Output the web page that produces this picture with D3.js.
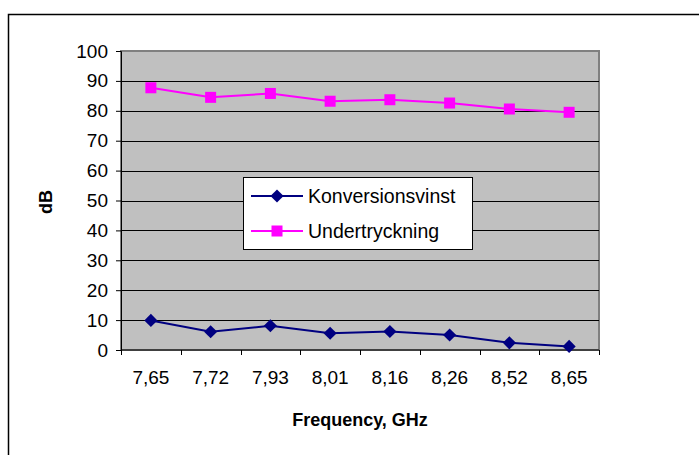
<!DOCTYPE html>
<html>
<head>
<meta charset="utf-8">
<script src="https://cdn.jsdelivr.net/npm/d3@7"></script>
<style>
  body { margin: 0; background: #fff; }
  svg { font-family: Arial, "Liberation Sans", sans-serif; display: block; }
</style>
</head>
<body>
<svg width="699" height="455"></svg>
<script>
var frequencies = ["7,65", "7,72", "7,93", "8,01", "8,16", "8,26", "8,52", "8,65"];
var konversionsvinst = [9.9, 6.1, 8.1, 5.6, 6.2, 5.0, 2.4, 1.2];
var undertryckning = [87.7, 84.5, 85.8, 83.2, 83.7, 82.6, 80.6, 79.5];
var yTicks = [0, 10, 20, 30, 40, 50, 60, 70, 80, 90, 100];

var svg = d3.select("svg"),
    margin = {top: 51, right: 100, bottom: 105, left: 121},
    width = +svg.attr("width") - margin.left - margin.right,
    height = +svg.attr("height") - margin.top - margin.bottom;

// outer chart frame (runs off right/bottom edge)
svg.append("rect")
    .attr("x", 8.5).attr("y", 14.5)
    .attr("width", 720).attr("height", 480)
    .attr("fill", "none").attr("stroke", "#000").attr("stroke-width", 1.5);

var x = d3.scaleBand().domain(frequencies).range([0, width]),
    y = d3.scaleLinear().domain([0, 100]).range([height, 0]);

var g = svg.append("g")
    .attr("transform", "translate(" + margin.left + "," + margin.top + ")");

g.append("rect")
    .attr("width", width).attr("height", height)
    .attr("fill", "#c0c0c0")
    .attr("stroke", "#808080").attr("stroke-width", 2);

// gridlines
g.selectAll(".grid")
    .data(yTicks.filter(function(d) { return d > 0 && d < 100; }))
    .enter().append("line")
    .attr("x1", 0).attr("x2", width)
    .attr("y1", function(d) { return Math.round(y(d)) + 0.5; })
    .attr("y2", function(d) { return Math.round(y(d)) + 0.5; })
    .attr("stroke", "#000").attr("stroke-width", 1);

// y axis
var yAxis = g.append("g")
    .call(d3.axisLeft(y).tickValues(yTicks).tickSize(5).tickPadding(8));
yAxis.selectAll("text").attr("font-size", 19).attr("fill", "#000").attr("font-family", "Arial, 'Liberation Sans', sans-serif");
yAxis.select(".domain").attr("stroke", "#000");

// x axis, ticks at band edges
var xAxis = g.append("g")
    .attr("transform", "translate(0," + height + ")")
    .call(d3.axisBottom(x).tickSize(0).tickPadding(21));
xAxis.selectAll("text").attr("font-size", 19).attr("fill", "#000").attr("font-family", "Arial, 'Liberation Sans', sans-serif");
xAxis.select(".domain").remove();
xAxis.append("line").attr("x1", 0).attr("x2", width).attr("stroke", "#000");
xAxis.selectAll(".edge")
    .data(frequencies.concat(["end"]))
    .enter().append("line")
    .attr("x1", function(d, i) { return Math.round(i * x.bandwidth()) + 0.5; })
    .attr("x2", function(d, i) { return Math.round(i * x.bandwidth()) + 0.5; })
    .attr("y1", 0).attr("y2", 5)
    .attr("stroke", "#000");

var cx = function(d, i) { return x(frequencies[i]) + x.bandwidth() / 2; };
var line = d3.line().x(cx).y(function(d) { return y(d); });

g.append("path").datum(undertryckning)
    .attr("d", line).attr("fill", "none")
    .attr("stroke", "#ff00ff").attr("stroke-width", 2);
g.selectAll(".sq").data(undertryckning).enter().append("rect")
    .attr("x", function(d, i) { return cx(d, i) - 5.5; })
    .attr("y", function(d) { return y(d) - 5.5; })
    .attr("width", 11).attr("height", 11)
    .attr("fill", "#ff00ff");

g.append("path").datum(konversionsvinst)
    .attr("d", line).attr("fill", "none")
    .attr("stroke", "#000080").attr("stroke-width", 2);
var diamond = d3.symbol().type(d3.symbolDiamond2).size(110);
g.selectAll(".dm").data(konversionsvinst).enter().append("path")
    .attr("transform", function(d, i) { return "translate(" + cx(d, i) + "," + y(d) + ")"; })
    .attr("d", diamond)
    .attr("fill", "#000080");

// axis titles
svg.append("text")
    .attr("transform", "translate(52,202) rotate(-90)")
    .attr("text-anchor", "middle")
    .attr("font-size", 18).attr("font-weight", "bold")
    .text("dB");
svg.append("text")
    .attr("x", margin.left + width / 2).attr("y", 426)
    .attr("text-anchor", "middle")
    .attr("font-size", 18).attr("font-weight", "bold")
    .text("Frequency, GHz");

// legend
var legend = svg.append("g").attr("transform", "translate(243,177)");
legend.append("rect")
    .attr("x", 0.5).attr("y", 0.5).attr("width", 229).attr("height", 72)
    .attr("fill", "#fff").attr("stroke", "#000");
var items = [
  {name: "Konversionsvinst", color: "#000080", type: "diamond"},
  {name: "Undertryckning", color: "#ff00ff", type: "square"}
];
items.forEach(function(it, i) {
    var ly = 19 + i * 35;
    legend.append("line")
        .attr("x1", 8).attr("x2", 60).attr("y1", ly).attr("y2", ly)
        .attr("stroke", it.color).attr("stroke-width", 2);
    if (it.type === "diamond") {
        legend.append("path")
            .attr("transform", "translate(34," + ly + ")")
            .attr("d", diamond).attr("fill", it.color);
    } else {
        legend.append("rect")
            .attr("x", 28.5).attr("y", ly - 5.5).attr("width", 11).attr("height", 11)
            .attr("fill", it.color);
    }
    legend.append("text")
        .attr("x", 65).attr("y", ly).attr("dy", "0.35em")
        .attr("font-size", 19.5).attr("fill", "#000")
        .text(it.name);
});
</script>
</body>
</html>
